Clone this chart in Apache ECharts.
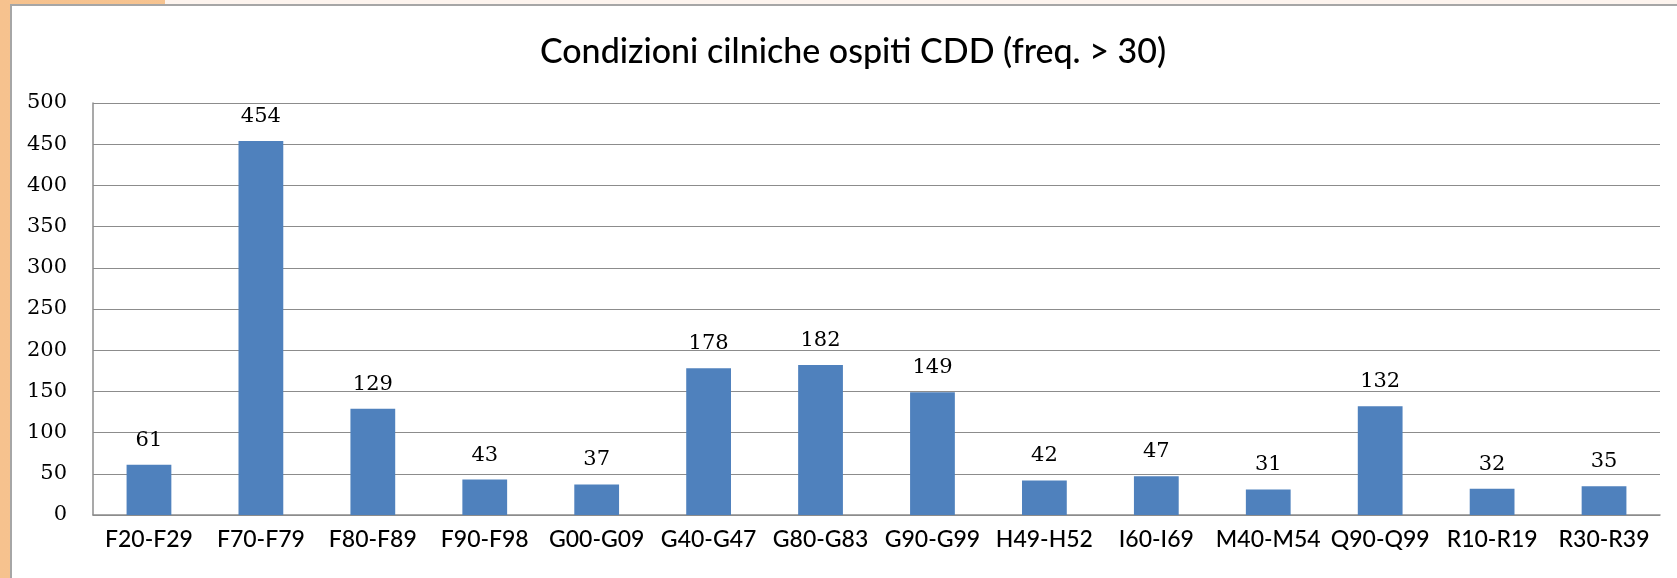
<!DOCTYPE html>
<html>
<head>
<meta charset="utf-8">
<title>Condizioni cliniche ospiti CDD</title>
<script src="https://cdn.jsdelivr.net/npm/echarts@6/dist/echarts.min.js"></script>
<style>
  html, body { margin: 0; padding: 0; background: #fff; }
  /* cornice arancione a sinistra, come nella slide originale */
  #frame {
    position: absolute; left: 0; top: 0; width: 1677px; height: 578px;
    background: linear-gradient(90deg, #f6c28e 0%, #f9d3a8 100%);
  }
  #panel {
    position: absolute; left: 10px; top: 4px; right: 0; bottom: 0;
    background: #fff;
    border-left: 2px solid #a6a6a6;
    border-top: 2px solid #a6a6a6;
  }
  #strip {
    position: absolute; left: 165px; top: 0; right: 0; height: 4px; background: #fdf4ee;
  }
  #main { position: absolute; left: 0; top: 0; width: 1677px; height: 578px; }
</style>
</head>
<body>
<div id="frame"></div>
<div id="strip"></div>
<div id="panel"></div>
<div id="main"></div>
<script>
// categorie (codici ICD) e frequenze
var categories = ["F20-F29", "F70-F79", "F80-F89", "F90-F98", "G00-G09", "G40-G47", "G80-G83",
  "G90-G99", "H49-H52", "I60-I69", "M40-M54", "Q90-Q99", "R10-R19", "R30-R39"];
var frequenze = [61, 454, 129, 43, 37, 178, 182, 149, 42, 47, 31, 132, 32, 35];
// tick dell'asse y
var yMin = 0;
var yMax = 500;
var yStep = 50;

var myChart = echarts.init(document.getElementById("main"));

var option = {
  backgroundColor: "transparent",
  animation: false,
  title: {
    text: "Condizioni cilniche ospiti CDD (freq. > 30)",
    left: 848,
    top: 30,
    textAlign: "center",
    textStyle: {
      fontFamily: "Lato",
      fontSize: 34,
      fontWeight: 500,
      color: "#000"
    }
  },
  grid: {
    left: 93,
    right: 17,
    top: 103,
    bottom: 63
  },
  xAxis: {
    type: "category",
    data: categories,
    axisLine: { lineStyle: { color: "#8c8c8c", width: 1.5 } },
    axisTick: { show: false },
    axisLabel: {
      margin: 13,
      fontFamily: "Lato",
      fontSize: 23,
      fontWeight: 500,
      color: "#000",
      interval: 0
    }
  },
  yAxis: {
    type: "value",
    min: yMin,
    max: yMax,
    interval: yStep,
    axisLine: { show: true, lineStyle: { color: "#8c8c8c", width: 1.5 } },
    axisTick: { show: false },
    splitLine: { lineStyle: { color: "#8c8c8c", width: 1.2 } },
    axisLabel: {
      margin: 26,
      fontFamily: "DejaVu Serif",
      fontSize: 21,
      color: "#000"
    }
  },
  series: [
    {
      name: "Frequenza",
      type: "bar",
      data: frequenze,
      barCategoryGap: "60%",
      itemStyle: { color: "#4f81bd" },
      label: {
        show: true,
        position: "top",
        distance: 14,
        fontFamily: "DejaVu Serif",
        fontSize: 21,
        color: "#000"
      }
    }
  ]
};

myChart.setOption(option);
</script>
</body>
</html>
